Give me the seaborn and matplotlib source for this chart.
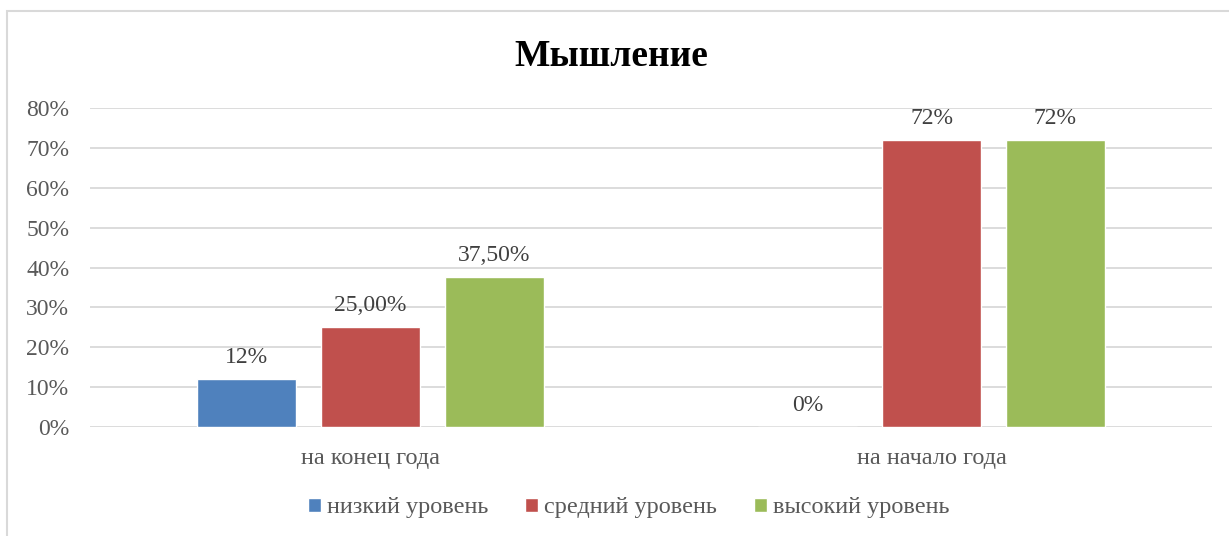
import pandas as pd
import seaborn as sns
from matplotlib import pyplot as plt
from matplotlib.patches import Rectangle
from matplotlib.ticker import PercentFormatter

# data
periods = ['на конец года', 'на начало года']
levels = ['низкий уровень', 'средний уровень', 'высокий уровень']
low = [12, 0]
mid = [25, 72]
high = [37.5, 72]
bar_labels = [['12%', '0%'], ['25,00%', '72%'], ['37,50%', '72%']]
colors = ['#4F81BD', '#C0504D', '#9BBB59']

df = pd.DataFrame({
    'period': periods * 3,
    'level': [levels[0]] * 2 + [levels[1]] * 2 + [levels[2]] * 2,
    'value': low + mid + high,
})

sns.set_style('white')
plt.rcParams['font.family'] = ['Liberation Serif', 'DejaVu Serif']

fig = plt.figure(figsize=(12.29, 5.36), dpi=100)
ax = fig.add_axes([90 / 1229, 1 - 427 / 536, 1122 / 1229, 319 / 536])

sns.barplot(data=df, x='period', y='value', hue='level', order=periods,
            hue_order=levels, palette=colors, width=0.663, gap=0.2,
            saturation=1, ax=ax, zorder=2)

for cont, labs in zip(ax.containers, bar_labels):
    ax.bar_label(cont, labels=labs, padding=8, fontsize=17, color='#404040')

ax.set_ylim(0, 80)
ax.set_xlim(-0.5, 1.5)
ax.set_yticks(range(0, 81, 10))
ax.yaxis.set_major_formatter(PercentFormatter(decimals=0))
ax.grid(axis='y', color='#d9d9d9', lw=1.3, zorder=0)
ax.set_axisbelow(True)
sns.despine(ax=ax, left=True, bottom=True, top=True, right=True)
ax.tick_params(axis='both', length=0, labelcolor='#595959')
ax.tick_params(axis='x', pad=15, labelsize=17.5)
ax.tick_params(axis='y', pad=15, labelsize=17)
ax.set_xlabel('')
ax.set_ylabel('')

fig.suptitle('Мышление', x=0.497, y=1 - 57 / 536, va='center',
             fontsize=27, fontweight='bold', color='black')

ax.legend(loc='center', bbox_to_anchor=(0.48, (508 - 427) / -319), ncol=3,
          frameon=False, fontsize=17.5, labelcolor='#595959',
          handlelength=0.55, handleheight=0.55, handletextpad=0.25,
          columnspacing=1.5)

fig.add_artist(Rectangle((7 / 1229, -0.05), 1.0, 1.05 - 11 / 536,
                         transform=fig.transFigure, fill=False,
                         edgecolor='#d9d9d9', lw=1.5))

fig.savefig('out.png', dpi=100)
